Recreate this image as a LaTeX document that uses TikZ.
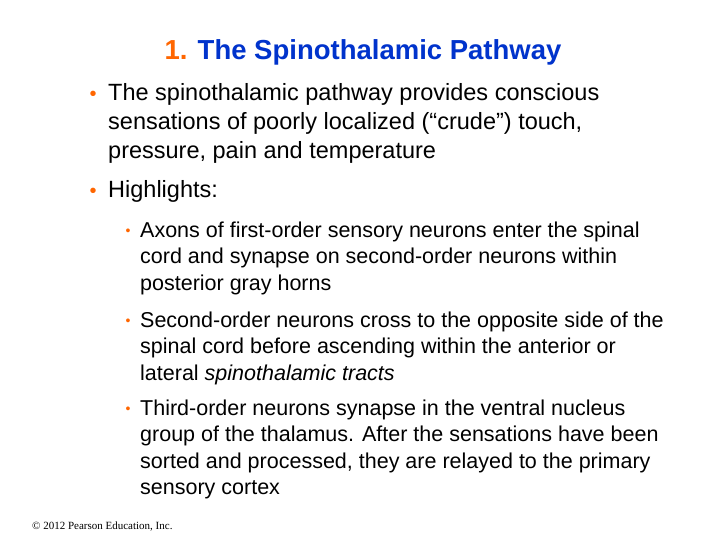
\documentclass[tikz,border=0pt]{standalone}
\usepackage{fontspec}
\setmainfont{Liberation Sans}
\newfontfamily\timesfont{Liberation Serif}
\usetikzlibrary{positioning}
\definecolor{titleblue}{RGB}{0,51,204}
\definecolor{bulletorange}{RGB}{255,102,0}

\begin{document}
\begin{tikzpicture}[x=1bp,y=-1bp,
    body/.style={anchor=north west,align=left,inner sep=0pt,font=\fontsize{23.5bp}{29bp}\selectfont},
    subbody/.style={anchor=north west,align=left,inner sep=0pt,font=\fontsize{21.5bp}{26.5bp}\selectfont},
    dot/.style={anchor=center,inner sep=0pt,text=bulletorange}]

  \useasboundingbox[fill=white] (0,0) rectangle (720,540);

  \node[font=\bfseries\fontsize{27.5bp}{30bp}\selectfont] (title) at (363,52)
    {\textcolor{bulletorange}{1.} \textcolor{titleblue}{The Spinothalamic Pathway}};

  \node[body] (b1) at (108,83) {The spinothalamic pathway provides conscious\\
    sensations of poorly localized (“crude”) touch,\\
    pressure, pain and temperature};
  \node[dot,font=\fontsize{20bp}{20bp}\selectfont] (d1) at (93,96) {•};

  \node[body] (b2) at (108,180) {Highlights:};
  \node[dot,font=\fontsize{20bp}{20bp}\selectfont] (d2) at (93,193) {•};

  \node[subbody] (s1) at (140,221.5) {Axons of first-order sensory neurons enter the spinal\\
    cord and synapse on second-order neurons within\\
    posterior gray horns};
  \node[dot,font=\fontsize{14bp}{14bp}\selectfont] (e1) at (128,232) {•};

  \node[subbody] (s2) at (140,311.5) {Second-order neurons cross to the opposite side of the\\
    spinal cord before ascending within the anterior or\\
    lateral \textit{spinothalamic tracts}};
  \node[dot,font=\fontsize{14bp}{14bp}\selectfont] (e2) at (128,322) {•};

  \node[subbody] (s3) at (140,399.5) {Third-order neurons synapse in the ventral nucleus\\
    group of the thalamus. After the sensations have been\\
    sorted and processed, they are relayed to the primary\\
    sensory cortex};
  \node[dot,font=\fontsize{14bp}{14bp}\selectfont] (e3) at (128,410) {•};

  \node[anchor=west,inner sep=0pt,font=\timesfont\fontsize{11bp}{13bp}\selectfont] (copy) at (32,527)
    {© 2012 Pearson Education, Inc.};
\end{tikzpicture}
\end{document}
